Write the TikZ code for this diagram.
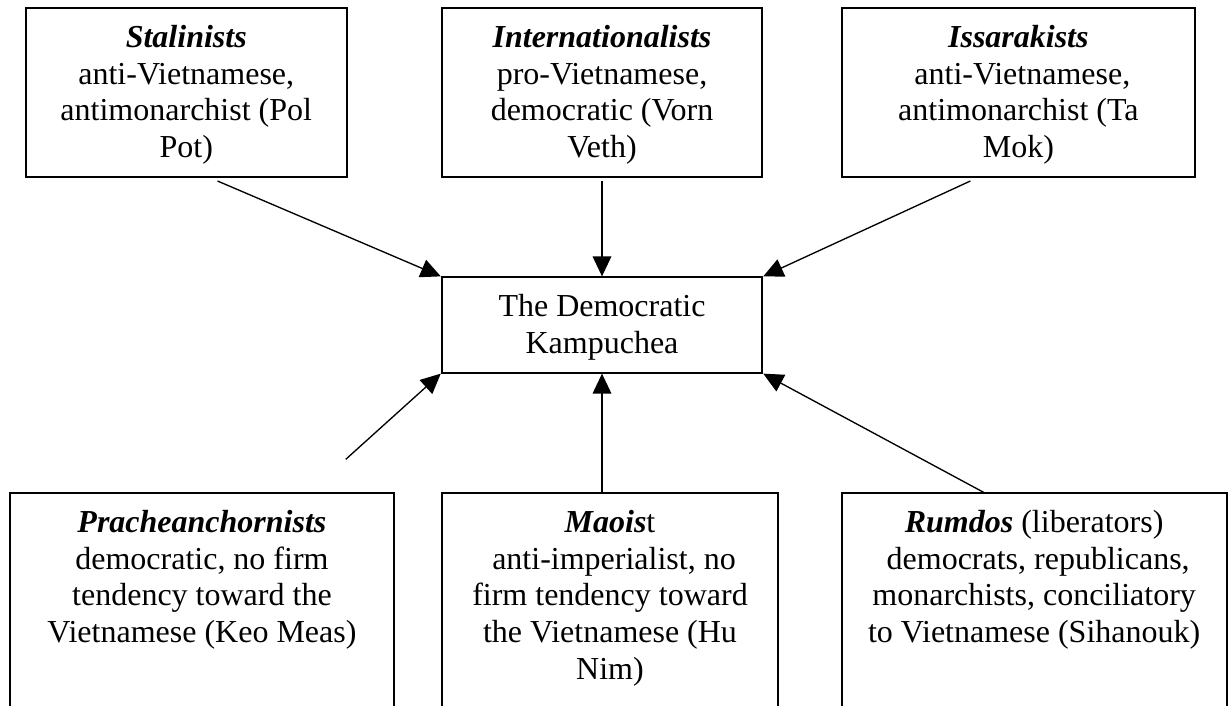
\documentclass[tikz,border=0pt]{standalone}
\usepackage{fontspec}
\setmainfont{Liberation Serif}
\usetikzlibrary{arrows.meta,calc}
\newcommand\stacklines[1]{{\renewcommand\arraystretch{1}\setlength\tabcolsep{0pt}\begin{tabular}[t]{c}#1\end{tabular}}}
\newcommand\bi[1]{\textbf{\textit{#1}}}
\begin{document}
\begin{tikzpicture}[x=0.375pt,y=-0.375pt,
  box/.style={draw, line width=0.7pt, inner sep=0pt, fill=none},
  lbl/.style={anchor=base, inner sep=0pt, font=\fontsize{12}{13.8}\selectfont},
  conn/.style={line width=0.5pt, -{Triangle[length=7.5pt,width=7pt]}}]
\useasboundingbox (0,0) rectangle (1231,706);
\clip (0,0) rectangle (1231,706);
% boxes
\node[box, minimum width=120.41pt, minimum height=63.15pt] (stal) at (186.25,92.5) {};
\node[box, minimum width=120.23pt, minimum height=63.15pt] (intl) at (602,92.5) {};
\node[box, minimum width=132.49pt, minimum height=63.15pt] (issa) at (1018.35,92.5) {};
\node[box, minimum width=120.23pt, minimum height=35.78pt] (dk) at (602,325) {};
\node[box, minimum width=144.04pt, minimum height=85pt] (prach) at (201.95,606.65) {};
\node[box, minimum width=126.23pt, minimum height=85pt] (mao) at (610,606.65) {};
\node[box, minimum width=144.34pt, minimum height=85pt] (rum) at (1034.15,606.65) {};
% texts
\node[lbl] (tstal) at ($(stal.north)+(0,40)$) {\stacklines{\bi{Stalinists}\\anti-Vietnamese,\\antimonarchist (Pol\\Pot)}};
\node[lbl] (tintl) at ($(intl.north)+(0,40)$) {\stacklines{\bi{Internationalists}\\pro-Vietnamese,\\democratic (Vorn\\Veth)}};
\node[lbl] (tissa) at ($(issa.north)+(0,40)$) {\stacklines{\bi{Issarakists}\\\hspace*{0.25em}anti-Vietnamese,\\antimonarchist (Ta\\Mok)}};
\node[lbl] (tdk) at ($(dk.north)+(0,40)$) {\stacklines{The Democratic\\Kampuchea}};
\node[lbl] (tprach) at ($(prach.north)+(0,40)$) {\stacklines{\bi{Pracheanchornists}\\democratic, no firm\\tendency toward the\\Vietnamese (Keo Meas)}};
\node[lbl] (tmao) at ($(mao.north)+(0,40)$) {\stacklines{\bi{Maois}t\\\hspace*{0.25em}anti-imperialist, no\\firm tendency toward\\the Vietnamese (Hu\\Nim)}};
\node[lbl] (trum) at ($(rum.north)+(0,40)$) {\stacklines{\bi{Rumdos} (liberators)\\\hspace*{0.25em}democrats, republicans,\\monarchists, conciliatory\\to Vietnamese (Sihanouk)}};
% connector start points
\coordinate (s1) at (217.5,181);
\coordinate (s2) at (602,181);
\coordinate (s3) at (970.4,181);
\coordinate (s4) at (345.8,459.3);
\coordinate (s5) at (602,493.3);
\coordinate (s6) at (985.4,493.3);
% connectors
\draw[conn] (s1) -- (dk.north west);
\draw[conn] (s2) -- (dk.north);
\draw[conn] (s3) -- (dk.north east);
\draw[conn] (s4) -- (dk.south west);
\draw[conn] (s5) -- (dk.south);
\draw[conn] (s6) -- (dk.south east);
\end{tikzpicture}
\end{document}
